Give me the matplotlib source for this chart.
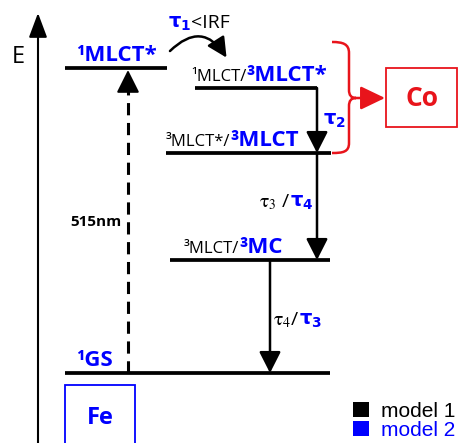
import matplotlib.pyplot as plt
from matplotlib.patches import Rectangle, FancyArrowPatch, PathPatch, Patch
from matplotlib.path import Path
from matplotlib.offsetbox import TextArea, HPacker, AnnotationBbox

# energy levels (schematic units, energy grows upward)
level_blue = ['¹MLCT*', '³MLCT*', '³MLCT', '³MC', '¹GS']      # model 2 names
level_black = ['', '¹MLCT/', '³MLCT*/', '³MLCT/', '']          # model 1 names
level_energy = [375, 355, 290, 183, 70]

# relaxation steps between levels (index from -> index to)
step_from = [1, 2, 3]
step_to = [2, 3, 4]
step_black = ['', r'$\mathrm{\tau}_3$ /', r'$\mathrm{\tau}_4$/']
step_blue = [r'$\mathbf{\tau_2}$', r'$\mathbf{\tau_4}$', r'$\mathbf{\tau_3}$']

pump_label = '515nm'
legend_labels = ['model 1', 'model 2']

BLUE = '#0000ff'
RED = '#e8141b'
FONT = 'Open Sans'

fig = plt.figure(figsize=(4.59, 4.43), dpi=100)
ax = fig.add_axes([0, 0, 1, 1])
ax.set_xlim(0, 459)
ax.set_ylim(0, 443)
ax.axis('off')

# layout of each level line
lev_x0 = [65, 195, 166, 170, 65]
lev_x1 = [167, 317, 331, 330, 330]
lab_x = [76, 191, 166, 184, 76]
step_x = [317, 317, 270]


def part(text, color, size, bold=False, math='dejavusans'):
    return TextArea(text, textprops=dict(color=color, fontsize=size, family=FONT,
                                         fontweight='bold' if bold else 'normal',
                                         math_fontfamily=math))


def label(x, y, parts, ha=0.0, va=0.0):
    parts = [p for p in parts if p.get_text()]
    box = HPacker(children=parts, align='baseline', pad=0, sep=0)
    ax.add_artist(AnnotationBbox(box, (x, y), box_alignment=(ha, va),
                                 frameon=False, pad=0))


# energy axis
ax.annotate('', xy=(38, 430), xytext=(38, -5),
            arrowprops=dict(arrowstyle='-|>,head_length=0.75,head_width=0.28',
                            mutation_scale=20, lw=1.5, color='black',
                            shrinkA=0, shrinkB=0))
ax.text(18, 386, 'E', fontsize=17, family=FONT, ha='center', va='center')

# levels
for i in range(len(level_energy)):
    ax.plot([lev_x0[i], lev_x1[i]], [level_energy[i]] * 2, color='black', lw=2.7,
            solid_capstyle='butt')
    label(lab_x[i], level_energy[i] + 2,
          [part(level_black[i], 'black', 12), part(level_blue[i], BLUE, 16, True)])

# pump (dashed) arrow from GS to 1MLCT*
ax.plot([128, 128], [level_energy[4], level_energy[0] - 17], color='black', lw=2.2,
        dashes=(4, 2.5))
ax.annotate('', xy=(128, level_energy[0] - 2), xytext=(128, level_energy[0] - 20),
            arrowprops=dict(arrowstyle='-|>,head_length=0.7,head_width=0.35',
                            mutation_scale=20, lw=1.5, color='black',
                            shrinkA=0, shrinkB=0))
ax.text(122, 221, pump_label, fontsize=11, fontweight='bold', family=FONT,
        ha='right', va='center')

# tau1 curved arrow
ax.add_patch(FancyArrowPatch((168, 390), (228, 383), connectionstyle='arc3,rad=-0.65',
                             arrowstyle='-|>,head_length=0.6,head_width=0.3',
                             mutation_scale=20, lw=1.8, color='black'))
label(168, 420, [part(r'$\mathbf{\tau_1}$', BLUE, 14, True),
                 part('<IRF', 'black', 14)], va=0.5)

# relaxation arrows
for i in range(len(step_from)):
    y0 = level_energy[step_from[i]]
    y1 = level_energy[step_to[i]]
    ax.annotate('', xy=(step_x[i], y1), xytext=(step_x[i], y0),
                arrowprops=dict(arrowstyle='-|>,head_length=0.65,head_width=0.33',
                                mutation_scale=20, lw=1.8, color='black',
                                shrinkA=0, shrinkB=0))
label(323, 323, [part(step_blue[0], BLUE, 14, True)], va=0.5)
label(259, 241, [part(step_black[1], 'black', 14, math='stix'),
                 part(step_blue[1], BLUE, 14, True)], va=0.5)
label(273, 123, [part(step_black[2], 'black', 14, math='stix'),
                 part(step_blue[2], BLUE, 14, True)], va=0.5)

# red brace pointing to Co
verts = [(332, 401), (343, 401), (349, 399), (349, 390), (349, 353),
         (349, 348), (351, 345), (356, 345), (351, 345), (349, 342), (349, 337),
         (349, 300), (349, 291), (343, 290), (332, 290)]
codes = [Path.MOVETO, Path.CURVE4, Path.CURVE4, Path.CURVE4, Path.LINETO,
         Path.CURVE4, Path.CURVE4, Path.CURVE4, Path.CURVE4, Path.CURVE4, Path.CURVE4,
         Path.LINETO, Path.CURVE4, Path.CURVE4, Path.CURVE4]
ax.add_patch(PathPatch(Path(verts, codes), fill=False, edgecolor=RED, lw=1.8))
ax.annotate('', xy=(385, 345), xytext=(355, 345),
            arrowprops=dict(arrowstyle='-|>,head_length=0.75,head_width=0.36',
                            mutation_scale=20, lw=1.8, color=RED,
                            shrinkA=0, shrinkB=0))
ax.add_patch(Rectangle((386, 316), 71, 59, fill=False, edgecolor=RED, lw=1.3))
ax.text(422, 345, 'Co', color=RED, fontsize=19, fontweight='bold', family=FONT,
        ha='center', va='center')

# Fe box
ax.add_patch(Rectangle((65, -10), 70, 68, fill=False, edgecolor=BLUE, lw=1.3))
ax.text(100, 25, 'Fe', color=BLUE, fontsize=17, fontweight='bold', family=FONT,
        ha='center', va='center')

# legend
handles = [Patch(facecolor='black'), Patch(facecolor=BLUE)]
ax.legend(handles, legend_labels, loc='lower left', bbox_to_anchor=(353, 3),
          bbox_transform=ax.transData, frameon=False,
          prop=dict(family='Liberation Sans', size=15), labelcolor=['black', BLUE],
          handlelength=0.75, handleheight=0.75, handletextpad=0.6, labelspacing=0.0,
          borderpad=0, borderaxespad=0)

fig.savefig('out.png', dpi=100)
